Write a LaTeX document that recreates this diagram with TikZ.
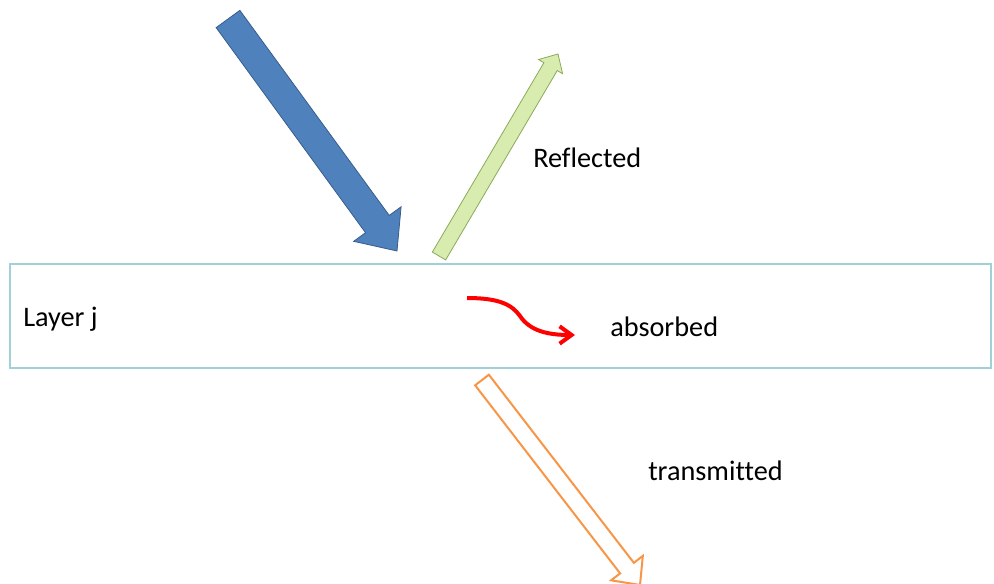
\documentclass[tikz,border=0pt]{standalone}
\usepackage{fontspec}
\setmainfont{Carlito}[Ligatures=NoCommon]
\usetikzlibrary{calc,arrows.meta}
\definecolor{beamBlue}{RGB}{79,129,189}
\definecolor{beamBlueDark}{RGB}{56,93,138}
\definecolor{beamGreen}{RGB}{215,236,174}
\definecolor{beamGreenDark}{RGB}{140,170,90}
\definecolor{beamOrange}{RGB}{247,150,70}
\definecolor{layerEdge}{RGB}{160,208,216}

% fat arrow: style, tail, tip, half shaft, half head, head length
\newcommand{\fatbeam}[6]{%
  \coordinate (hb) at ($(#3)!#6!(#2)$);
  \path[#1] ($(#2)!#4!90:(#3)$) -- ($(hb)!#4!90:(#3)$) -- ($(hb)!#5!90:(#3)$) -- (#3)
    -- ($(hb)!#5!-90:(#3)$) -- ($(hb)!#4!-90:(#3)$) -- ($(#2)!#4!-90:(#3)$) -- cycle;}

\begin{document}
\begin{tikzpicture}[x=0.75pt, y=-0.75pt,
    layerbox/.style={draw=layerEdge, line width=1.6pt, fill=white},
    label/.style={anchor=base west, inner sep=0pt, font=\fontsize{21.2}{25}\selectfont},
    incident/.style={draw=beamBlueDark, fill=beamBlue, line width=0.6pt, line join=miter},
    reflected/.style={draw=beamGreenDark, fill=beamGreen, line width=0.6pt, line join=miter},
    transmitted/.style={draw=beamOrange, fill=white, line width=1.5pt, line join=miter},
    absorbed/.style={draw=red, line width=3pt, -{Straight Barb[length=9pt,width=13pt]}}]

    \useasboundingbox (0,0) rectangle (994,584);

    % the layer
    \draw [layerbox] (10,264) rectangle (991,368);
    \node [label] (layer) at (23,326) {Layer j};

    % beams
    \coordinate (inTail) at (228,19);
    \coordinate (inTip) at (397,251);
    \coordinate (reTail) at (439,256);
    \coordinate (reTip) at (558,54);
    \coordinate (trTail) at (482,380);
    \coordinate (trTip) at (640,585);

    \fatbeam{incident}{inTail}{inTip}{11pt}{22pt}{25pt}
    \fatbeam{reflected}{reTail}{reTip}{5.8pt}{10.5pt}{11pt}
    \fatbeam{transmitted}{trTail}{trTip}{6.5pt}{15pt}{16pt}

    \coordinate (abStart) at (467,298);
    \coordinate (abEnd) at (575,335);
    \draw [absorbed] (abStart) .. controls (500,298) and (512,305) .. (520,316)
        .. controls (530,331) and (548,335) .. (abEnd);

    % labels
    \node [label] (refl) at (533,168) {Reflected};
    \node [label] (abs) at (610,336) {absorbed};
    \node [label] (trans) at (648,480) {transmitted};
\end{tikzpicture}
\end{document}
